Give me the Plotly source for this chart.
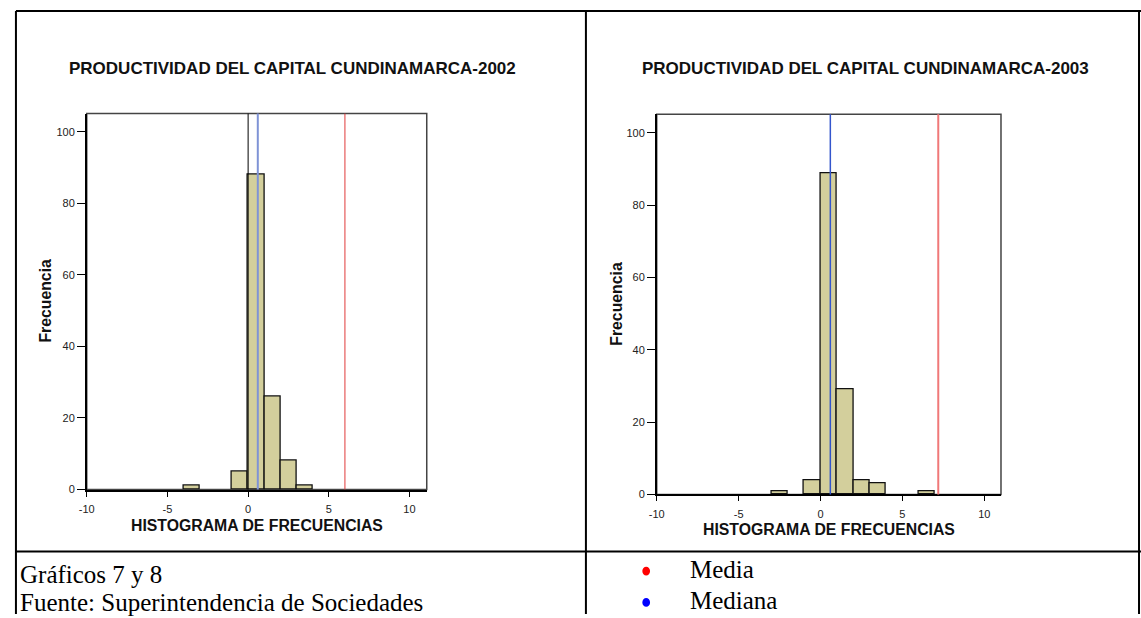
import plotly.graph_objects as go

# ---------------- data ----------------
bin_left_2002 = [-4, -1, 0, 1, 2, 3]
freq_2002 = [1, 5, 88, 26, 8, 1]
bin_left_2003 = [-3, -1, 0, 1, 2, 3, 6]
freq_2003 = [1, 4, 89, 29, 4, 3, 1]
bin_width = 1

mean_2002 = 6.0
median_2002 = 0.6
mean_2003 = 7.19
median_2003 = 0.6

x_ticks = [-10, -5, 0, 5, 10]
x_tick_labels = ["-10", "-5", "0", "5", "10"]
y_ticks = [0, 20, 40, 60, 80, 100]
y_tick_labels = ["0", "20", "40", "60", "80", "100"]

titles = ["PRODUCTIVIDAD DEL CAPITAL CUNDINAMARCA-2002",
          "PRODUCTIVIDAD DEL CAPITAL CUNDINAMARCA-2003"]
x_title = "HISTOGRAMA DE FRECUENCIAS"
y_title = "Frecuencia"
footer_lines = ["Gráficos 7 y 8", "Fuente: Superintendencia de Sociedades"]
legend_items = ["Media", "Mediana"]
legend_colors = ["#FF0000", "#0000FF"]

# ---------------- layout helpers ----------------
W, H = 1141, 618
def px(x):
    return x / W
def py(y):
    return 1 - y / H

SANS = "Liberation Sans, Arial, sans-serif"
SERIF = "Liberation Serif, Times New Roman, serif"
BAR_FILL = "#D3CF9C"

fig = go.Figure()

fig.add_trace(go.Bar(x=[b + bin_width / 2 for b in bin_left_2002], y=freq_2002,
                     width=bin_width, marker=dict(color=BAR_FILL, line=dict(color="#111", width=1.3)),
                     xaxis="x", yaxis="y", showlegend=False, hoverinfo="x+y"))
fig.add_trace(go.Bar(x=[b + bin_width / 2 for b in bin_left_2003], y=freq_2003,
                     width=bin_width, marker=dict(color=BAR_FILL, line=dict(color="#111", width=1.3)),
                     xaxis="x2", yaxis="y2", showlegend=False, hoverinfo="x+y"))

axis_common = dict(showgrid=False, zeroline=False, showline=True, linecolor="#000",
                   ticks="outside", tickcolor="#000",
                   tickfont=dict(family=SANS, size=11, color="#222"))

fig.update_layout(
    width=W, height=H, autosize=False,
    margin=dict(l=0, r=0, t=0, b=0),
    paper_bgcolor="white", plot_bgcolor="white",
    bargap=0,
    xaxis=dict(domain=[px(79.3), px(421.7)], range=[-10, 11.07], tickvals=x_ticks, ticktext=x_tick_labels,
               linewidth=2, ticklen=5, ticklabelstandoff=3, anchor="y", **axis_common),
    yaxis=dict(domain=[py(494.3), py(114.7)], range=[0, 105.1], tickvals=y_ticks, ticktext=y_tick_labels,
               linewidth=1.5, ticklen=8, anchor="x", **axis_common),
    xaxis2=dict(domain=[px(653.3), px(1000)], range=[-10, 11.02], tickvals=x_ticks, ticktext=x_tick_labels,
                linewidth=2, ticklen=5, ticklabelstandoff=3, anchor="y2", **axis_common),
    yaxis2=dict(domain=[py(499.3), py(115.3)], range=[0, 105.2], tickvals=y_ticks, ticktext=y_tick_labels,
                linewidth=1.5, ticklen=8, anchor="x2", **axis_common),
)

shapes = []
# plot frames (top/right)
for xr, yr in [("x", "y"), ("x2", "y2")]:
    shapes.append(dict(type="rect", xref=xr + " domain", yref=yr + " domain",
                       x0=0, x1=1, y0=0, y1=1, line=dict(color="#444", width=1.5), layer="below"))
# reference lines
shapes.append(dict(type="line", xref="x", yref="y domain", x0=0, x1=0, y0=0, y1=1,
                   line=dict(color="#000", width=1)))
shapes.append(dict(type="line", xref="x", yref="y domain", x0=median_2002, x1=median_2002, y0=0, y1=1,
                   line=dict(color="#7F93D6", width=2)))
shapes.append(dict(type="line", xref="x", yref="y domain", x0=mean_2002, x1=mean_2002, y0=0, y1=1,
                   line=dict(color="#E03A3A", width=1)))
shapes.append(dict(type="line", xref="x2", yref="y2 domain", x0=median_2003, x1=median_2003, y0=0, y1=1,
                   line=dict(color="#3355CC", width=1.5)))
shapes.append(dict(type="line", xref="x2", yref="y2 domain", x0=mean_2003, x1=mean_2003, y0=0, y1=1,
                   line=dict(color="#F07878", width=2)))

# table borders
tline = dict(color="#000", width=2)
shapes += [
    dict(type="line", xref="paper", yref="paper", x0=px(8), x1=px(1141), y0=py(11), y1=py(11), line=tline),
    dict(type="line", xref="paper", yref="paper", x0=px(8), x1=px(8), y0=py(11), y1=py(620), line=tline),
    dict(type="line", xref="paper", yref="paper", x0=px(582), x1=px(582), y0=py(11), y1=py(620), line=tline),
    dict(type="line", xref="paper", yref="paper", x0=px(1139), x1=px(1139), y0=py(11), y1=py(620), line=tline),
    dict(type="line", xref="paper", yref="paper", x0=px(8), x1=px(1141), y0=py(557), y1=py(557), line=tline),
]
# legend bullets
for (top, bottom), col in zip([(572.2, 581.2), (603.8, 612.8)], legend_colors):
    shapes.append(dict(type="circle", xref="paper", yref="paper",
                       x0=px(638.8), x1=px(646.6), y0=py(bottom), y1=py(top),
                       fillcolor=col, line=dict(width=0)))
fig.update_layout(shapes=shapes)

ann = []
def text(x, y, s, size, family=SANS, bold=False, xanchor="center", angle=0, color="#111"):
    ann.append(dict(xref="paper", yref="paper", x=px(x), y=py(y), text=(f"<b>{s}</b>" if bold else s),
                    showarrow=False, xanchor=xanchor, yanchor="middle", textangle=angle,
                    font=dict(family=family, size=size, color=color)))

text(286.5, 69.5, titles[0], 17, bold=True)
text(863.5, 69.5, titles[1], 17, bold=True)
text(250.5, 531, x_title, 15.8, bold=True)
text(826.7, 535, x_title, 15.8, bold=True)
text(38.3, 303.5, y_title, 15.8, bold=True, angle=-90)
text(612.0, 307, y_title, 15.8, bold=True, angle=-90)
text(10, 580, footer_lines[0], 25, family=SERIF, xanchor="left", color="#000")
text(10, 608.5, footer_lines[1], 25, family=SERIF, xanchor="left", color="#000")
text(684.3, 575, legend_items[0], 25, family=SERIF, xanchor="left", color="#000")
text(684.3, 606, legend_items[1], 25, family=SERIF, xanchor="left", color="#000")
fig.update_layout(annotations=ann)

fig.write_html("out.html", config={"displayModeBar": False},
               post_script="document.body.style.margin='0px';document.body.style.overflow='hidden';")
